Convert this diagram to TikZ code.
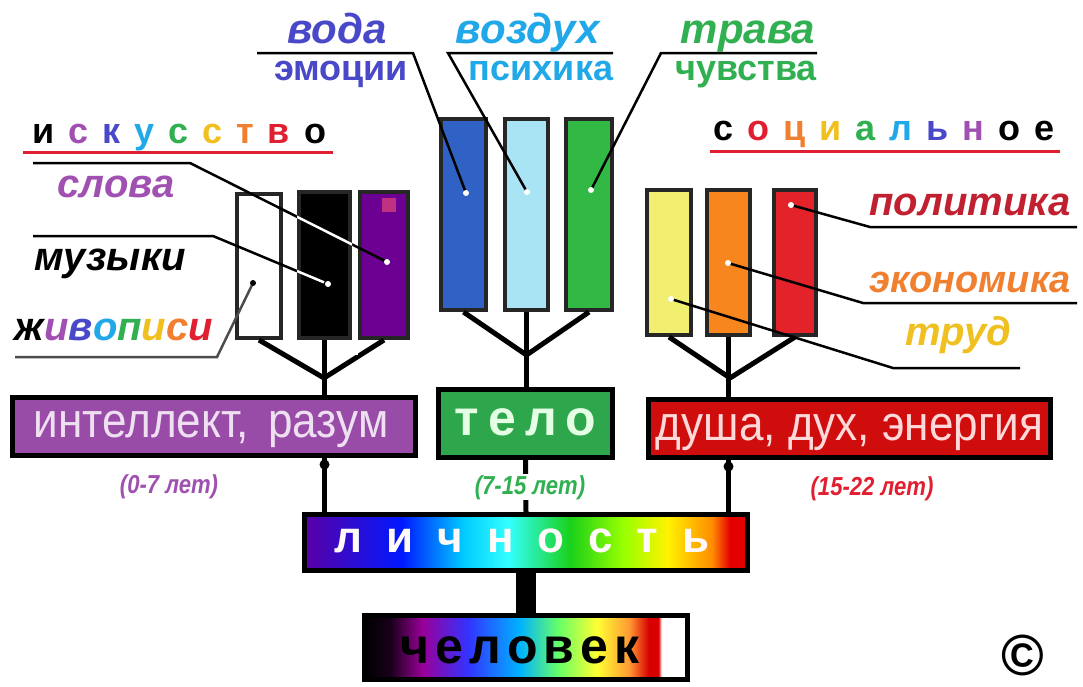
\documentclass[tikz,border=0pt]{standalone}
\usepackage{fontspec}
\setmainfont{Liberation Sans}
\usetikzlibrary{positioning}
\definecolor{kviolet}{HTML}{A050B0}
\definecolor{kblue}{HTML}{4848C8}
\definecolor{ksky}{HTML}{20A8E8}
\definecolor{kgreen}{HTML}{30B050}
\definecolor{kyellow}{HTML}{F0C020}
\definecolor{korange}{HTML}{F08030}
\definecolor{kred}{HTML}{E02030}
\definecolor{kdred}{HTML}{C02030}
\pgfdeclarehorizontalshading{lichnshade}{100bp}{color(0bp)=(violet!70!blue); color(25bp)=(violet!70!blue);
  color(36bp)=(blue!90!cyan); color(43bp)=(cyan!80!blue); color(48bp)=(cyan!80!white); color(55bp)=(green!80!black!90);
  color(61bp)=(green!40!yellow); color(66bp)=(yellow!90!orange); color(71bp)=(orange!90!yellow); color(73bp)=(red!90!black); color(75bp)=(red!90!black); color(100bp)=(red!90!black)}
\pgfdeclarehorizontalshading{chelshade}{100bp}{color(0bp)=(black); color(25bp)=(black); color(29bp)=(black!80!violet);
  color(34bp)=(violet!80!magenta); color(41bp)=(blue!80!white); color(49bp)=(cyan!70!blue); color(55bp)=(green!60!white);
  color(61bp)=(yellow!80!white); color(66bp)=(orange!80!white); color(69bp)=(red!85!black); color(70.5bp)=(red!85!black);
  color(71bp)=(white); color(75bp)=(white); color(100bp)=(white)}
\newcommand{\lsp}{\hspace{14pt}}
\newcommand{\fs}[1]{\fontsize{#1}{#1}\selectfont}
\begin{document}
\begin{tikzpicture}[x=1pt,y=-1pt,
  bar/.style={draw=black!85,line width=4pt,inner sep=0pt},
  box/.style={draw=black,line width=5pt,inner sep=0pt},
  lead/.style={line width=2.5pt},
  conn/.style={line width=5pt},
  dot/.style={circle,fill=white,inner sep=0pt,minimum size=6pt},
  lbl/.style={inner sep=0pt,anchor=base,font=\fs{40}\bfseries\itshape},
  sub/.style={inner sep=0pt,anchor=base,font=\fs{36}\bfseries},
  age/.style={inner sep=1pt,fill=white,anchor=base,font=\fs{26}\bfseries\itshape}]
\useasboundingbox[fill=white] (0,0) rectangle (1083,686);

% bars
\node[bar,fill=white,minimum width=44pt,minimum height=144pt] (wbar) at (259,266) {};
\node[bar,fill=black,minimum width=51pt,minimum height=146pt] (bbar) at (324.5,265) {};
\node[bar,fill=violet!85!blue,minimum width=48pt,minimum height=146pt] (pbar) at (384,265) {};
\fill[magenta!50!violet] (382,198) rectangle (396,212);
\node[bar,fill={rgb,255:red,47;green,98;blue,196},minimum width=45pt,minimum height=191pt] (blbar) at (463.5,214.5) {};
\node[bar,fill={rgb,255:red,168;green,228;blue,244},minimum width=43pt,minimum height=191pt] (lbbar) at (526.5,214.5) {};
\node[bar,fill={rgb,255:red,50;green,185;blue,69},minimum width=46pt,minimum height=191pt] (gbar) at (589,214.5) {};
\node[bar,fill={rgb,255:red,242;green,238;blue,112},minimum width=44pt,minimum height=145pt] (ybar) at (669,262.5) {};
\node[bar,fill={rgb,255:red,247;green,134;blue,31},minimum width=43pt,minimum height=145pt] (obar) at (728.5,262.5) {};
\node[bar,fill={rgb,255:red,227;green,34;blue,42},minimum width=42pt,minimum height=145pt] (rbar) at (795,262.5) {};

% forks
\coordinate (jl) at (324,378);
\coordinate (jc) at (526.5,355);
\coordinate (jr) at (730,378);
\node[box,fill=kviolet!95!black,minimum width=403pt,minimum height=58pt] (intel) at (214,426) {};
\node[inner sep=0pt,anchor=base,font=\fs{49}\color{kviolet!18!white}] (intelt) at (211,437) {\scalebox{0.9}[1]{интеллект,\, разум}};
\node[box,fill=kgreen!95!black,minimum width=174pt,minimum height=68pt] (telo) at (525.5,423.5) {};
\node[inner sep=0pt,anchor=base,font=\fs{50}\bfseries\color{green!10!white}] (telot) at (525.5,435) {т\hspace{9pt}е\hspace{9pt}л\hspace{9pt}о};
\node[box,fill=red!80!black!95,minimum width=402pt,minimum height=58pt] (dusha) at (849.5,428) {};
\node[inner sep=0pt,anchor=base,font=\fs{49}\color{red!15!white}] (dushat) at (849.5,440) {\scalebox{0.9}[1]{душа, дух, энергия}};
\draw[conn] (wbar.south) -- (jl);
\draw[conn] (pbar.south) -- (jl);
\draw[conn] (bbar.south) -- (bbar.south |- intel.north);
\draw[conn] (blbar.south) -- (jc);
\draw[conn] (gbar.south) -- (jc);
\draw[conn] (lbbar.south) -- (lbbar.south |- telo.north);
\draw[conn] (ybar.south) -- (jr);
\draw[conn] (rbar.south) -- (jr);
\draw[conn] (obar.south) -- (obar.south |- dusha.north);
\draw[white,line width=5pt] (290,200) -- (290,340);
\draw[white,line width=5pt] (355,185) -- (355,355);
\draw[white,line width=5pt] (762,173) -- (762,348);

% top labels
\node[lbl,font=\fs{42}\bfseries\itshape,text=kblue] (voda) at (337,43) {вода};
\node[sub,text=kblue] (emoc) at (341,80) {эмоции};
\node[lbl,font=\fs{42}\bfseries\itshape,text=ksky] (vozd) at (528,43) {воздух};
\node[sub,text=ksky] (psih) at (541,80) {психика};
\node[lbl,font=\fs{42}\bfseries\itshape,text=kgreen] (trava) at (748,43) {трава};
\node[sub,text=kgreen] (chuv) at (746,80) {чувства};
\coordinate (vodaL) at (257,53); \coordinate (vodaR) at (413,53);
\coordinate (vozdL) at (448,53); \coordinate (vozdR) at (613,53);
\coordinate (travL) at (661,53); \coordinate (travR) at (817,53);
\draw[lead] (vodaL) -- (vodaR) -- (466,193) node[dot] (dvoda) {};
\draw[lead] (vozdR) -- (vozdL) -- (527,192) node[dot] (dvozd) {};
\draw[lead] (travR) -- (travL) -- (591,190) node[dot] (dtrav) {};

% left labels
\node[sub] (isk) at (179,143) {и\lsp\color{kviolet}с\lsp\color{kblue}к\lsp\color{ksky}у\lsp\color{kgreen}с\lsp\color{kyellow}с\lsp\color{korange}т\lsp\color{kred}в\lsp\color{black}о};
\draw[kred,line width=3pt] (23,152) -- (333,152);
\node[lbl,text=kviolet] (slova) at (116,197) {слова};
\node[lbl] (muz) at (110,270) {музыки};
\node[lbl] (zhiv) at (114,340) {ж\color{kviolet}и\color{kblue}в\color{ksky}о\color{kgreen}п\color{kyellow}и\color{korange}с\color{kred}и};
\coordinate (slovaL) at (33,163); \coordinate (slovaR) at (190,163);
\coordinate (muzL) at (33,236); \coordinate (muzR) at (213,236);
\coordinate (zhivL) at (15,357); \coordinate (zhivR) at (217,357);
\draw[lead] (slovaL) -- (slovaR) -- (387,262) node[dot] (dslova) {};
\draw[lead] (muzL) -- (muzR) -- (328,284) node[dot] (dmuz) {};
\draw[lead,black!70] (zhivL) -- (zhivR) -- (253,283) node[dot,fill=black] (dzhiv) {};
\begin{scope}
\clip (bbar.north west) rectangle (bbar.south east);
\draw[lead,white] (slovaR) -- (dslova);
\draw[lead,white] (muzR) -- (dmuz);
\end{scope}

% right labels
\node[sub] (soc) at (884,140) {с\lsp\color{kred}о\lsp\color{korange}ц\lsp\color{kyellow}и\lsp\color{kgreen}а\lsp\color{ksky}л\lsp\color{kblue}ь\lsp\color{kviolet}н\lsp\color{black}о\lsp е};
\draw[kred,line width=3pt] (710,151) -- (1060,151);
\node[lbl,text=kdred] (polit) at (970,215) {политика};
\node[lbl,font=\fs{38}\bfseries\itshape,text=korange] (ekon) at (970,292) {экономика};
\node[lbl,text=kyellow] (trud) at (958,345) {труд};
\coordinate (politL) at (870,227); \coordinate (politR) at (1077,227);
\coordinate (ekonL) at (863,303); \coordinate (ekonR) at (1077,303);
\coordinate (trudL) at (893,368); \coordinate (trudR) at (1020,368);
\draw[lead] (politR) -- (politL) -- (791,205) node[dot] (dpolit) {};
\draw[lead] (ekonR) -- (ekonL) -- (728,263) node[dot] (dekon) {};
\draw[lead] (trudR) -- (trudL) -- (671,299) node[dot] (dtrud) {};

% bottom
\node[box,shade,shading=lichnshade,minimum width=443pt,minimum height=56pt] (lichn) at (526,542.5) {};
\node[inner sep=0pt,anchor=base,font=\fs{44}\bfseries\color{white!90!pink}] (lichnt) at (522,552) {л\hspace{24pt}и\hspace{24pt}ч\hspace{24pt}н\hspace{24pt}о\hspace{24pt}с\hspace{24pt}т\hspace{24pt}ь};
\node[box,shade,shading=chelshade,minimum width=323pt,minimum height=64pt] (chel) at (526,647) {};
\node[inner sep=0pt,anchor=base,font=\fs{50}\bfseries] (chelt) at (520,663) {ч\hspace{6pt}е\hspace{6pt}л\hspace{6pt}о\hspace{6pt}в\hspace{6pt}е\hspace{6pt}к};
\draw[conn] (intel.south -| bbar.south) -- (lichn.north -| bbar.south);
\fill (intel.south -| bbar.south) ++(0,7) circle (5pt);
\draw[conn] (telo.south) -- (lichn.north);
\draw[conn] (dusha.south -| obar.south) -- (lichn.north -| obar.south);
\fill (dusha.south -| obar.south) ++(0,7) circle (5pt);
\draw[line width=20pt] (lichn.south) -- (chel.north);
\node[font=\fs{58}\bfseries] (copy) at (1023,655) {\textcopyright};

% ages
\node[age,text=kviolet] (age1) at (169,493) {\scalebox{0.85}[1]{(0-7 лет)}};
\node[age,text=kgreen] (age2) at (530,494) {\scalebox{0.85}[1]{(7-15 лет)}};
\node[age,text=kred] (age3) at (872,495) {\scalebox{0.85}[1]{(15-22 лет)}};
\end{tikzpicture}
\end{document}
